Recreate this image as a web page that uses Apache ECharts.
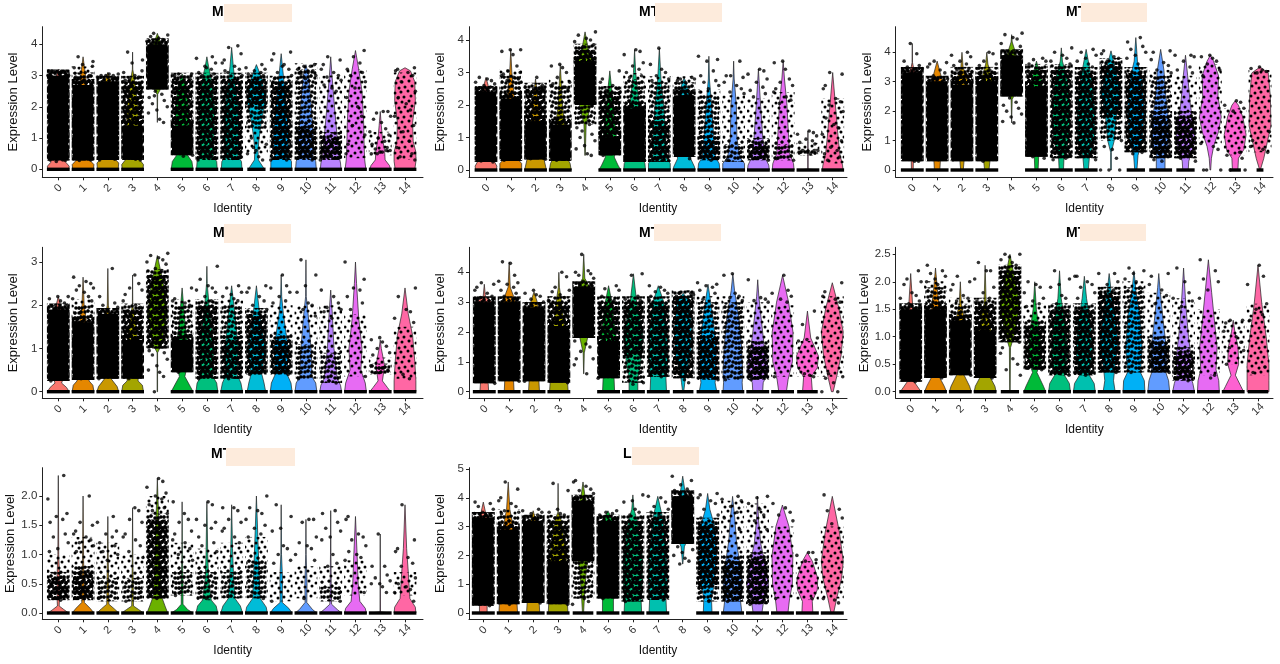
<!DOCTYPE html>
<html><head><meta charset="utf-8">
<style>html,body{margin:0;padding:0;background:#fff}#c{width:1280px;height:664px}</style>
<script src="https://cdn.jsdelivr.net/npm/echarts@6/dist/echarts.min.js"></script></head>
<body><div id="c"></div>
<script>
const categories=['0','1','2','3','4','5','6','7','8','9','10','11','12','13','14'];
const colors=['#F8766D','#E58700','#C99800','#A3A500','#6BB100','#00BA38','#00BF7D','#00C0AF','#00BCD8','#00B0F6','#619CFF','#B983FF','#E76BF3','#FD61D1','#FF67A4'];
const titles=['M','MT','MT','M','MT','MT','MT','LI'];
const yTicks=[[0,1,2,3,4],[0,1,2,3,4],[0,1,2,3,4],[0,1,2,3],[0,1,2,3,4],[0,.5,1,1.5,2,2.5],[0,.5,1,1.5,2],[0,1,2,3,4,5]];
const yDecimals=[0,0,0,0,0,1,1,0];

// Violin outlines: flat pairs of expression level, relative half width.
const violin1=[[0,.95,.1,1,.22,.7,.5,.7,1.5,.7,2.5,.6,3.1,.1,3.2,0],[0,.95,.15,1,.3,.6,1,.6,2,.55,2.8,.3,3.2,.15,3.6,0],[0,.95,.2,1,.35,.6,1,.65,2,.6,2.8,.3,3.1,0],[0,.95,.15,1,.35,.55,1,.6,2,.5,2.8,.2,3.2,.02,3.75,0],[1.5,0,2.4,.03,2.7,.5,3.2,.85,3.8,.6,4.2,.15,4.35,0],[0,1,.25,.9,.45,.5,1,.65,2,.6,2.7,.35,3.05,0],[0,.95,.25,.9,.4,.6,1,.65,2,.7,2.9,.4,3.3,.15,3.6,0],[0,.95,.25,.9,.4,.6,1,.65,2,.6,2.8,.3,3.3,.15,3.9,0],[0,.65,.05,.65,.3,.18,.6,.15,1,.25,1.5,.45,2.2,.85,2.9,.5,3.35,0],[0,.95,.25,.95,.45,.6,1,.7,2,.5,3,.2,3.7,0],[0,.95,.25,.9,.45,.65,1,.7,2,.5,3,.25,3.35,0],[0,.95,.2,.9,.45,.75,1,.6,2,.35,3,.12,3.6,0],[0,.95,.3,.85,.7,.8,1.5,.75,2.5,.6,3.2,.3,3.8,0],[0,.95,.12,.85,.3,.45,.6,.4,1,.2,1.4,.1,1.85,0],[0,.9,.25,1,.55,1,.9,.75,1.5,.7,2.2,.95,2.8,.9,3.15,.5,3.25,0]];
const violin2=[[0,.95,.12,1,.3,.7,1,.75,2,.6,2.6,.2,2.85,0],[0,1,.2,1,.35,.6,1,.65,2,.4,3,.1,3.7,0],[0,1,.3,.8,.45,.6,1,.55,2,.3,2.8,0],[0,1,.2,.9,.4,.6,1,.55,2,.2,3.25,0],[.45,.02,1.4,.1,1.9,.45,2.6,.9,3.3,.7,3.7,.3,4.25,0],[0,1,.15,.75,.4,.4,.7,.7,1.5,.45,2.4,.2,3.05,0],[0,1,.2,.95,.4,.65,1,.7,2,.45,3,.1,3.7,0],[0,1,.2,1,.4,.6,1,.6,2,.4,2.8,.15,3.75,0],[0,1,.1,.95,.35,.6,.8,.75,1.8,.9,2.5,.35,2.85,0],[0,1,.2,.95,.4,.6,1,.45,2,.25,2.8,.05,3.5,0],[0,1,.2,1,.4,.55,1,.3,2,.25,2.8,.05,3.35,0],[0,1,.15,.95,.4,.6,1,.4,2,.2,3.1,0],[0,1,.2,.95,.5,.6,1,.5,2,.35,2.8,.12,3.35,0],[0,.95,.03,.02,.6,.02,1.2,0],[0,.95,.15,.9,.5,.65,1,.5,2,.25,3,0]];
const violin3=[[0,.08,.35,.1,1,.7,2,.8,3,.65,3.5,.1,3.65,.02,4.3,0],[0,.25,.35,.3,.8,.75,2,.8,3,.5,3.7,0],[0,.12,.35,.2,1,.65,2,.75,3,.55,3.5,.1,4,0],[0,.2,.35,.3,1,.7,2,.75,3,.55,3.6,.1,4,0],[1.6,0,2.4,.05,2.8,.6,3.4,.85,4,.35,4.35,.05,4.6,0],[0,.15,.45,.2,1,.7,2,.75,3,.5,3.7,0],[0,.2,.45,.25,1,.7,2,.8,3,.6,3.7,.1,4.15,0],[0,.2,.45,.3,1,.75,2,.8,3,.55,4.1,0],[0,.03,.6,.03,1,.3,1.8,.5,2.6,.85,3.3,.5,4.05,0],[0,.1,.5,.2,1,.6,2,.75,3,.6,3.7,.15,4.5,0],[0,.4,.5,.4,1,.8,1.8,.7,2.6,.45,3.4,.3,4.1,0],[0,.25,.3,.3,1,.9,1.5,.75,2.2,.45,3.2,.2,3.9,0],[0,.03,.4,.1,.8,.3,1.3,.75,1.8,1,2.5,.7,3.2,.75,3.7,.3,3.9,0],[0,.25,.4,.3,.7,.8,1.2,1,1.8,.7,2.2,.3,2.35,0],[0,.03,.4,.35,1,.7,1.5,1,2.5,.95,3.3,.75,3.5,0]];
const violin4=[[0,1,.1,.75,.2,.3,.5,.75,1,.7,2,.2,2.2,0],[0,1,.15,.9,.25,.55,.6,.7,1.2,.55,2,.1,2.65,0],[0,1,.12,.85,.3,.3,.8,.7,1.5,.4,2,.05,2.85,0],[0,1,.15,.9,.25,.5,.8,.6,1.5,.35,2,.02,2.7,0],[0,.02,.9,.02,1.1,.4,1.8,.9,2.5,.55,3.15,0],[0,1,.12,.75,.35,.25,.8,.65,1.5,.3,2.4,0],[0,1,.2,.9,.35,.55,1,.65,2,.2,2.5,.03,2.9,0],[0,1,.2,.85,.4,.5,1,.6,1.8,.3,2.45,0],[0,.85,.2,.7,.4,.5,1,.8,1.8,.3,2.45,0],[0,1,.2,.9,.4,.55,1,.65,1.8,.2,2.2,.05,2.7,0],[0,1,.2,.9,.35,.55,.9,.5,1.8,.2,2.2,.03,3.05,0],[0,1,.15,.9,.3,.6,1,.3,1.8,.15,2.35,0],[0,1,.2,.9,.5,.5,1,.6,1.7,.3,2.5,.1,3,0],[0,.95,.1,.65,.25,.2,.6,.4,1,.1,1.2,0],[0,1,.25,1,.7,.9,1.3,.7,1.8,.3,2.4,0]];
const violin5=[[0,.4,.3,.35,.5,.75,1.5,.8,3,.7,3.2,.1,3.6,0],[0,.45,.4,.4,.7,.85,2,.9,3,.6,3.5,.1,4.35,0],[0,.5,.35,.45,.7,.8,2,.75,3,.3,3.35,0],[0,.85,.3,.8,.6,.7,1.5,.7,3,.25,3.5,.05,4,0],[.6,.01,1.3,.05,1.8,.35,2.5,.8,3.4,.7,3.8,.1,4.6,0],[0,.55,.45,.5,.8,.75,1.8,.7,3,.3,3.55,0],[0,.4,.45,.4,.9,.65,2,.85,3,.3,3.95,0],[0,.75,.45,.7,1,.85,2,.8,3,.5,3.55,0],[0,.05,.3,.15,.6,.25,1.2,.7,2,.8,3,.6,3.3,0],[0,.8,.3,.65,.5,.7,1.5,.75,2.5,.45,3.6,0],[0,.9,.3,.85,.6,.9,1.5,.8,2.5,.55,3.4,.15,3.95,0],[0,.45,.3,.5,.7,1,1.5,.6,2.5,.3,3.2,.1,3.75,0],[0,.35,.4,.5,1,.9,2,.95,3,.55,3.9,0],[0,.45,.5,.35,.8,.9,1.2,1,1.8,.3,2.7,0],[0,.08,.5,.4,1.2,.8,2,1,2.8,.6,3.65,0]];
const violin6=[[0,.95,.1,.6,.2,.25,.5,.8,1,.7,1.5,.2,2.15,0],[0,1,.1,.8,.25,.4,.6,.75,1.2,.6,1.8,.2,2.25,0],[0,1,.1,.85,.3,.35,.6,.8,1.2,.5,1.6,.1,2,0],[0,1,.1,.9,.25,.5,.6,.75,1.2,.5,1.6,.1,2.3,0],[0,.02,.8,.05,1.1,.5,1.6,.9,2.2,.3,2.5,0],[0,1,.1,.8,.35,.2,.6,.6,1,.5,1.5,.15,2,0],[0,1,.15,.9,.3,.45,.7,.75,1.2,.55,1.7,.15,2.2,0],[0,1,.15,.9,.3,.45,.7,.75,1.2,.6,1.7,.2,2.1,0],[0,.55,.2,.4,.4,.5,.9,.8,1.4,.55,1.8,.2,2.15,0],[0,1,.2,.95,.35,.6,.8,.75,1.4,.55,1.8,.2,2.2,0],[0,1,.2,.9,.35,.65,.7,.75,1.3,.4,1.9,.1,2.15,0],[0,1,.15,.85,.3,.6,.6,.7,1,.45,1.6,.2,2.25,0],[0,1,.2,.95,.4,.7,.8,.8,1.2,.6,1.8,.3,2.4,0],[0,.95,.1,.7,.3,.2,.5,.5,.8,.45,1.1,.15,1.3,0],[0,1,.2,1,.5,1,1,.75,1.6,.35,2.3,0]];
const violin7=[[0,.95,.06,.5,.12,.08,.2,.1,.6,.12,1,.04,2.35,0],[0,1,.08,.65,.18,.12,.5,.1,.9,.05,2,0],[0,1,.07,.6,.15,.1,.5,.08,.9,.04,1.65,0],[0,1,.06,.55,.12,.08,.5,.06,.9,.03,1.8,0],[0,.95,.12,.7,.3,.35,.8,.25,1.5,.15,2,.05,2.3,0],[0,1,.06,.5,.15,.08,.5,.08,1,.02,1.9,0],[0,1,.12,.85,.22,.4,.6,.15,1,.08,1.9,0],[0,1,.12,.8,.25,.3,.6,.18,1.1,.08,1.85,0],[0,1,.1,.9,.25,.35,.7,.25,1.2,.15,2,0],[0,1,.08,.7,.18,.1,.6,.12,1,.03,1.85,0],[0,1,.06,.6,.18,.08,.5,.1,1,.02,1.6,0],[0,1,.06,.6,.15,.08,.5,.05,1,.02,1.75,0],[0,1,.08,.9,.2,.4,.5,.25,1,.15,1.65,0],[0,.95,.02,.02,.5,.01,1.35,0],[0,1,.1,.95,.25,.45,.7,.3,1.1,.15,1.85,0]];
const violin8=[[0,.35,.3,.35,.6,.75,2,.8,3.2,.65,3.5,.2,3.85,0],[0,.85,.35,.8,.7,.85,2,.85,3,.45,3.6,.15,4.55,0],[0,.6,.35,.55,.8,.85,2,.8,3,.4,3.55,0],[0,.9,.35,.85,.8,.8,2,.75,3.2,.3,3.5,.02,4.5,0],[0,.05,.5,.12,1.5,.3,2.5,.8,3.5,.75,4,.2,4.55,0],[0,.5,.45,.5,.9,.8,2,.8,3.2,.45,3.55,0],[0,.8,.45,.75,1,.85,2,.85,3.2,.4,3.6,.1,4.1,0],[0,.8,.45,.75,1,.85,2,.8,3.2,.5,4.05,0],[1.7,.01,2.3,.15,2.8,.7,3.6,.9,4.1,.25,4.75,0],[0,.4,.5,.35,1,.6,2,.8,3,.65,3.6,.2,4.15,0],[0,.85,.5,.7,1,.85,1.6,.7,2.5,.35,3.3,.2,4.05,0],[0,.4,.4,.55,1,1,1.6,.75,2.4,.3,3.2,.1,4.05,0],[0,.5,.5,.65,1,.9,2,.95,3,.6,3.75,0],[0,.5,.4,.45,.8,.9,1.2,.95,1.8,.45,2.1,0],[0,.12,.5,.4,1.2,.85,1.8,1,2.8,.65,4.05,0]];

// Overplotted point masses: [from level, to level, density 1-3, 4 = solid black].
const mass1=[[[.28,3,4]],[[.28,2.7,4],[2.7,3.1,2]],[[.3,2.8,4]],[[.3,1.4,4],[1.4,2.8,3]],[[2.55,4,4]],[[.45,1.4,4],[1.4,2.9,3]],[[.3,2.9,3]],[[.3,2.9,3]],[[.5,1.3,1],[1.3,2,2],[2,2.9,3]],[[.3,2.8,3]],[[.3,1.3,3],[1.3,3.2,2]],[[.3,1,3],[1,3,1]],[[.35,3.2,1]],[[.45,1.2,1]],[[.3,3.1,1]]];
const mass2=[[[.25,2.4,4]],[[.28,2.2,4],[2.2,2.9,2]],[[.32,1.5,4],[1.5,2.5,3]],[[.28,1.4,4],[1.4,2.6,2]],[[2,3.3,4],[3.3,3.7,3],[1.4,2,2]],[[.45,1,4],[1,2.4,3]],[[.25,1.9,4],[1.9,2.8,2]],[[.25,1.5,3],[1.5,2.7,2]],[[.4,2.3,4],[2.3,2.7,2]],[[.3,.9,3],[.9,2.3,2]],[[.25,.8,2],[.8,2.3,1]],[[.3,.8,3],[.8,2.2,1]],[[.3,.8,2],[.8,2.4,1]],[[.45,.65,2]],[[.2,2.2,1]]];
const mass3=[[[.3,3.3,4]],[[.3,3,4]],[[.3,2.9,4],[2.9,3.3,3]],[[.3,3,4],[3,3.3,3]],[[2.5,3.9,4]],[[.45,2.8,4],[2.8,3.4,3]],[[.4,3.4,3]],[[.4,3.3,3]],[[1.8,3.6,3],[1,1.8,2]],[[.6,3.3,3]],[[.4,1.8,3],[1.8,3.2,2]],[[.4,1.8,3],[1.8,3.2,1]],[[.9,3.6,1]],[[.5,2.1,1]],[[.6,3.4,1]]];
const mass4=[[[.25,1.9,4]],[[.27,1.6,4],[1.6,2,2]],[[.3,1.8,4]],[[.3,1.2,4],[1.2,1.9,3]],[[1,2.7,3]],[[.45,1.2,4],[1.2,2,2]],[[.3,2,3]],[[.3,1.2,3],[1.2,2,2]],[[.4,1.8,3]],[[.4,1.2,3],[1.2,2,1]],[[.3,1.1,2],[1.1,2,1]],[[.2,.9,2],[.9,2,1]],[[.35,1.8,1]],[[.4,.65,2]],[[.3,1.5,1]]];
const mass5=[[[.28,3,4]],[[.35,3,4]],[[.35,2.8,4]],[[.3,2.2,4],[2.2,3,3]],[[1.8,3.5,4]],[[.45,1.7,4],[1.7,3,3]],[[.3,1.2,2],[1.2,3,3]],[[.5,3,3]],[[.45,3.2,3]],[[.4,1.8,3],[1.8,3,2]],[[.4,3,2]],[[.4,1.5,3],[1.5,3,1]],[[.5,2.9,1]],[[.5,1.7,1]],[[.5,3.2,1]]];
const mass6=[[[.18,1.5,4]],[[.25,1.5,4],[1.5,1.9,2]],[[.3,1.3,4],[1.3,1.6,2]],[[.25,1.1,4],[1.1,1.6,3]],[[.9,2.2,3]],[[.4,1.2,3],[1.2,1.6,1]],[[.3,1.5,3]],[[.3,1.5,3]],[[.35,1.8,3]],[[.35,1.9,2]],[[.35,.9,3],[.9,1.8,1]],[[.2,.7,3],[.7,1.7,1]],[[.3,1.5,1]],[[.5,1.3,1]],[[.3,1.6,1]]];
const mass7=[[[.22,.6,3],[.6,1,1]],[[.22,.7,3],[.7,1.3,1]],[[.2,.6,2],[.6,1.2,1]],[[.2,.6,2],[.6,1,1]],[[.25,1.6,3],[1.6,2,1]],[[.3,.7,2],[.7,1.2,1]],[[.22,.7,2],[.7,1.1,1]],[[.25,.7,2],[.7,1.2,1]],[[.25,.9,2],[.9,1.3,1]],[[.2,.7,1]],[[.25,.8,1]],[[.2,.45,2],[.45,.8,1]],[[.3,.9,1]],[],[[.3,.7,1]]];
const mass8=[[[.25,3.3,4]],[[.3,2.9,4],[2.9,3.4,2]],[[.35,3.2,4]],[[.3,1.8,4],[1.8,3.2,3]],[[1.8,3.9,4],[.5,1.8,2]],[[.5,3.2,4]],[[.4,3.2,3]],[[.45,3.3,3]],[[2.4,4.05,4]],[[.9,3.1,3],[.4,.9,2]],[[.4,1.8,3],[1.8,3.9,1]],[[.3,1.9,3],[1.9,3.8,1]],[[.5,3,1]],[[.45,1.8,1]],[[.5,3,1]]];

// Relative width of the row of zero-valued cells per identity.
const zero1=[1,1,1,1,0,1,1,1,.8,1,1,1,1,1,1];
const zero2=[1,1,1,1,0,1,1,1,1,1,1,1,1,1,1];
const zero3=[1,1,1,1,0,1,1,1,0,.8,1,.8,0,.5,.3];
const zero4=[1,1,1,1,0,1,1,1,1,1,1,1,1,1,1];
const zero5=[1,1,1,1,0,1,1,1,.9,1,1,1,1,.9,0];
const zero6=[1,1,1,1,.8,1,1,1,1,1,1,1,1,1,.9];
const zero7=[1,1,1,1,1,1,1,1,1,1,1,1,1,1,1];
const zero8=[1,1,1,1,.9,1,1,1,0,1,1,1,1,1,1];

// Separately visible points.
const points1=[[3.15,3.1,3.05,3.1,3,3.15,3.05,3.1,3,3,.25,.3,.3,.28],[3.6,3.45,3.35,3.25,3.1,3,2.9,3.3,2.95,2.85,2.8,.3,.28],[3.05,3,3.05,3,2.95,2.9,3,2.9,.3,.32],[3.75,3.5,3.4,3.1,3,2.95,2.9,3.15,2.85,2.8,.32,.3],[4.35,4.3,4.25,4.2,4.15,4.1,4.05,2.5,2.4,2.3,2.2,2.1,2,1.9,1.8,1.6,1.5,2.35],[3.05,3,3,2.95,2.9,3.05,.45,.5,.42],[3.6,3.55,3.4,3.3,3.2,3.1,3.05,3,2.95,3.25,.3,.35],[3.95,3.9,3.7,3.5,3.4,3.3,3.2,3.1,3,3.15,.35],[3.35,3.25,3.2,3.15,3.1,3.05,3,1,.8,.6,.5,.4,.3,.7],[3.75,3.7,3.5,3.35,3.2,3.1,3,2.9,3.3,.3,.3],[3.35,3.3,3.3,3.2,3.15,3.05,3,2.9,2.8,3.1,.3],[3.6,3.5,3.35,3.2,3.1,3,2.95,2.85,2.7,2.6,2.5,.3],[3.8,3.6,3.4,3.2,3.1,3,2.8,2.6,2.3,2,1.7,1.4,1.1,.8,.5],[1.85,1.85,1.8,1.7,1.6,1.5,1.3,1.2,1.1,1,.9,.8,.7,.65,.6,.55,.5,.55,.6,.5],[3.25,3.2,3.15,3.1,3,2.8,2.5,2.3,2.1,1.9,1.7,1.4,1.2,.9,.7,.5,.4,.3]];
const points2=[[2.85,2.8,2.75,2.7,2.65,2.6,2.55,2.5,.25,.28],[3.7,3.7,3.65,3.55,3.2,3.05,3,2.95,2.9,2.85,2.8,2.75,2.7,.3],[2.85,2.55,2.55,2.5,2.5,2.45,2.4,2.6,.35,.33],[3.25,3.2,3.15,3,2.85,2.7,2.65,2.6,2.55,2.5,.3],[4.25,4.15,4.05,4,3.95,3.85,3.8,1.4,1.3,1.1,1,.9,.75,.65,.5,.45,1.2],[3.05,2.8,2.7,2.6,2.5,2.45,2.4,.45],[3.7,3.65,3.55,3.3,3.2,3.1,3,2.9,2.85,.3],[3.75,3.25,3.1,3,2.9,2.8,2.75,.3,.3],[2.85,2.8,2.8,2.75,2.7,.35],[3.5,3.4,3.35,3.05,2.9,2.75,2.7,2.6,2.5,2.4,.3],[3.35,2.9,2.85,2.9,2.7,2.6,2.5,2.4,2.35,.3],[3.1,3.05,2.95,2.8,2.7,2.55,2.45,2.35,2.25,.3],[3.35,3.3,3.1,2.8,2.7,2.6,2.5,2.4,2.25,2.15,2.05,.3,.35],[1.2,1.15,1.1,1.05,.95,.9,.85,.8,.6,.6,.55,.55,.5,.6],[3,2.95,2.6,2.5,2.2,2.1,2,1.8,1.6,1.4,1.3,1.1,.9,.7,.6,.5,.4,.3]];
const points3=[[4.3,3.95,3.7,3.55,3.5,3.45,3.4,3.35,.3,.3],[3.7,3.65,3.6,3.5,3.4,3.3,3.2,3.1,3.05,.35],[4,3.9,3.85,3.7,3.6,3.55,3.45,3.4,3.35,3.3,.35],[4,3.95,3.7,3.6,3.55,3.45,3.4,3.3,.3],[4.65,4.6,4.5,4.45,4.3,4.2,2.45,2.3,2.2,2.1,2,1.9,1.8,1.65,1.6],[3.8,3.75,3.7,3.6,3.5,3.45,.4,.45],[4.15,4,3.9,3.8,3.7,3.6,3.5,.4,.35],[4.1,4,3.9,3.8,3.7,3.6,3.5,3.4,.35],[4.05,3.95,3.85,3.8,3.7,1,.8,.7,.4,0,0,0],[4.5,4.35,4.2,4.1,4,3.9,3.8,3.6,.6,.55],[4.05,4,3.75,3.65,3.55,3.4,3.3,.35,.3],[3.9,3.9,3.85,3.7,3.5,3.4,3.3,.4,.3],[3.9,3.85,3.8,3.7,3.6,3.4,3.2,.9,.8,.7,0,0,0],[2.35,2.3,2.2,2.1,2,.6,.5,.4,0,0],[3.5,3.45,3.4,3.35,3.3,1.3,1,.8,.7,.6]];
const points4=[[2.2,2.2,2.15,2.1,2.05,2,2,.25],[2.65,2.55,2.5,2.45,2.4,2.35,2.3,2.2,2.15,2.1,.3],[2.85,2.2,2.05,2,1.95,1.9,.3],[2.7,2.5,2.4,2.35,2.25,2.1,2,1.95,.3],[3.2,3.15,3.1,3.05,3,2.95,2.85,2.8,.95,.9,.85,.75,.6,.5,.45,.35,0],[2.4,2.15,2.1,2.05,2,.45],[2.9,2.6,2.45,2.4,2.35,2.3,2.2,2.1,.3],[2.45,2.4,2.3,2.25,2.2,2.15,2.1,.3],[2.45,2.4,2.3,2.2,2.1,2,1.9,.4],[2.7,2.45,2.4,2.3,2.2,2.1,2.05,.4],[3.05,2.7,2.45,2.3,2.05,2,1.9,1.75,.3],[2.35,2.2,2.05,1.95,1.9,1.85,1.7,.2],[3,2.6,2.4,2.35,2.2,2.05,1.9,.35],[1.25,1.2,1.15,1.05,1,.9,.85,.6,.55,.5,.45],[2.4,2.2,1.9,1.85,1.7,1.6,.4,.3]];
const points5=[[3.65,3.6,3.5,3.4,3.3,3.2,3.15,.28],[4.35,4.3,3.9,3.7,3.65,3.6,3.5,3.4,3.3,3.2,.35],[3.4,3.3,3.25,3.2,3.1,3,2.95,.35],[4,3.85,3.5,3.4,3.35,3.25,3.15,3.05,.3],[4.6,4.05,4,3.95,3.9,3.8,3.7,1.7,1.6,1.5,1.35,1.1,1.1,.9,.6],[3.55,3.45,3.4,3.2,3.1,3.05,.45],[3.95,3.9,3.2,3.1,3.05,3,.3,.25],[3.55,3.5,3.4,3.35,3.3,3.2,3.1,.5],[3.3,3.3,3.25,3.2,.4,.3],[3.65,3.6,3.55,3.5,3.4,3.3,3.1,.4],[3.95,3.9,3.3,3.2,3.15,3.05,.4],[3.75,3.15,3.1,3.05,3,.4],[3.9,3.4,3.3,3.2,3.1,3,.5],[2.7,2.25,1.8,1.75,1.7,.55,.5,.6],[3.65,3.35,3.2,3.1,3,.6,.5,.45,.3,0,0]];
const points6=[[2.2,2.05,2,1.95,1.8,1.75,1.7,1.65,1.6,.18],[2.3,2.2,2.15,2.1,2.05,2,1.95,.25],[2.1,2,1.95,1.85,1.75,1.7,1.65,.3],[2.35,2.2,2.2,2.05,1.9,1.8,1.7,1.65,.25],[2.5,2.5,2.45,2.4,2.35,2.3,2.25,.9,.8,.7,.6,.5,.4,.3],[2,1.95,1.9,1.8,1.7,1.65,1.6,1.55,.4],[2.2,2.05,1.95,1.9,1.75,1.7,1.6,.3],[2.1,2.1,2,1.95,1.9,1.8,1.7,.3],[2.15,2.15,2,1.95,1.85,1.75,.35],[2.25,2.2,2.15,2.05,2,1.9,.35],[2.15,2.1,1.95,1.85,1.75,1.6,.35],[2.25,2,1.8,1.7,1.65,1.55,.2],[2.4,2.2,2.05,2,1.85,1.7,.25,.3],[1.3,1.3,1.25,1.1,1,.9,.8,.75,.5],[2.3,2.1,1.95,1.6,1.5,1.4,1.3,.45,.35]];
const points7=[[2.35,1.95,1.7,1.65,1.6,1.55,1.35,1.3,1.2,1.1,1.05,.22],[2,1.55,1.5,1.4,1.35,1.3,1.25,1.2,1.15,1.05,.25],[1.65,1.55,1.4,1.35,1.3,1.2,1.15,1.05,1,.9,.25],[1.8,1.75,1.6,1.55,1.35,1.3,1.25,1.15,1.05,.95,.2],[2.3,2.25,2.15,2.05,2,1.95,1.85,1.8,1.75,1.7,.25],[1.9,1.7,1.6,1.55,1.4,1.35,1.25,1.2,1.1,1,.9,.3],[1.9,1.85,1.6,1.55,1.5,1.45,1.3,1.2,1.15,1.05,.25],[1.8,1.8,1.75,1.6,1.55,1.45,1.4,1.3,1.2,.3],[2,1.8,1.75,1.7,1.6,1.5,1.45,1.35,1.3,.25],[1.85,1.65,1.45,1.4,1.15,1.1,1,.9,.85,.2],[1.6,1.6,1.55,1.3,1.2,1.15,1.1,1,.9,.25],[1.75,1.7,1.55,1.45,1.4,1.3,1.25,1,.85,.8,.2],[1.65,1.6,1.35,1.3,1.25,1.15,1.05,1,.95,.9,.35],[1.35,.8,.8,.65,.6,.55,.5,.5,.45,.35],[1.85,1.25,1.1,1.05,.95,.85,.8,.6,.5,.45,.4,.35,.2]];
const points8=[[3.85,3.8,3.7,3.6,3.5,3.45,3.4,.25],[4.55,4.3,4,3.9,3.8,3.7,3.55,3.5,3.45,.3],[3.6,3.55,3.5,3.45,3.4,3.3,.35],[4.5,4.25,3.6,3.5,3.45,3.4,3.3,.3],[4.6,4.55,4.4,4.3,4.25,4.15,4.05,.5,.4,.3],[3.55,3.5,3.45,3.4,3.3,.5],[4.1,3.9,3.85,3.6,3.5,3.4,3.3,.4],[4.05,4,3.85,3.7,3.6,3.5,3.4,.45],[4.75,4.6,4.45,4.3,4.25,4.2,2.3,2.2,2.1,2,1.9,1.8,1.7],[4.15,4.1,4,3.9,3.8,3.6,3.4,3.3,.4],[4.05,3.95,3.9,3.7,3.5,3.3,2.9,.4],[4.05,4,3.8,3.6,3.4,3.2,2.9,.3],[3.8,3.65,3.5,3.4,3.2,.5],[2.1,2.1,2,1.85,1.8,.5],[4.1,3.6,3.55,3.3,3.1,.5,.45,.35]];

const violins=[violin1,violin2,violin3,violin4,violin5,violin6,violin7,violin8];
const masses=[mass1,mass2,mass3,mass4,mass5,mass6,mass7,mass8];
const zeros=[zero1,zero2,zero3,zero4,zero5,zero6,zero7,zero8];
const pointSets=[points1,points2,points3,points4,points5,points6,points7,points8];

// ---- layout and styling (pixels) ----
const layout=[
 {l:42.3,r:423,t:26.7,b:177.3,x0:58.3,x14:405,y0:169.3,yv:4,ypx:44.3,tx:212,ty:5,box:[224,4,68,18]},
 {l:469,r:847,t:26.7,b:177.3,x0:486,x14:832.7,y0:170,yv:4,ypx:40,tx:639,ty:5,box:[655,3,67,19]},
 {l:895.7,r:1273,t:26.7,b:177.3,x0:912.3,x14:1260,y0:170,yv:4,ypx:52.3,tx:1066,ty:5,box:[1081,3,66,19]},
 {l:42.3,r:423,t:247.3,b:398.3,x0:58.3,x14:405,y0:391.7,yv:3,ypx:262,tx:213,ty:226,box:[224,224,67,19]},
 {l:469,r:847,t:247.3,b:398.3,x0:484.3,x14:832.3,y0:391.7,yv:4,ypx:272.3,tx:639,ty:226,box:[654,224,67,17]},
 {l:895.7,r:1273,t:247.3,b:398.3,x0:910.7,x14:1258,y0:391.7,yv:2.5,ypx:254.3,tx:1066,ty:226,box:[1080,224,66,17]},
 {l:42.3,r:423,t:467.7,b:619.3,x0:58.3,x14:405,y0:613,yv:2,ypx:496,tx:211,ty:447,box:[226,448,69,18]},
 {l:469,r:847,t:467.7,b:619.3,x0:483.3,x14:832.3,y0:613,yv:5,ypx:469,tx:623,ty:447,box:[632,447,67,18]}
];
const halfWidth=.44, massWidth=.41, haloWidth=.46, haloTop=6;
const jitter=[-.38,.12,.31,-.15,.42,-.27,.05,.22,-.42,.35,-.08,.18,-.33,.28,-.2,.4,-.02,-.36,.09,.25,-.12,.38,-.3];
const font='"Liberation Sans",Arial,sans-serif';

// Stipple tiles stand in for the thousands of overplotted cells.
const tileDots=[[2,2],[9,1],[16,3],[5,7],[12,6],[19,8],[1,12],[8,11],[15,13],[4,17],[11,16],[18,18],[6,3],[13,2],[19,3],[2,8],[9,7],[16,8],[5,12],[12,12],[19,13],[1,17],[8,17],[15,18],[4,0],[11,4],[17,0],[0,5],[7,9],[14,9],[3,10],[10,14],[17,11],[6,15],[13,19],[0,14]];
function tile(n,r){const c=document.createElement('canvas');c.width=c.height=20;const g=c.getContext('2d');g.fillStyle='#000';
 tileDots.slice(0,n).forEach(d=>{[-20,0,20].forEach(a=>[-20,0,20].forEach(b=>{g.beginPath();g.arc(d[0]+a,d[1]+b,r,0,7);g.fill();}));});return {image:c,repeat:'repeat'};}
const fills={1:tile(12,1.5),2:tile(24,1.8),3:tile(36,1.9),4:'#000'};
const haloFill={1:null,2:fills[1],3:fills[2],4:fills[3]};

const grid=[],xAxis=[],yAxis=[],series=[],title=[],graphic=[];
layout.forEach((p,i)=>{
 const ux=(p.x14-p.x0)/14, uy=(p.y0-p.ypx)/p.yv;
 grid.push({left:p.l,top:p.t,width:p.r-p.l,height:p.b-p.t});
 const cats=categories.map((_,k)=>k);
 xAxis.push({type:'value',gridIndex:i,min:-(p.x0-p.l)/ux,max:14+(p.r-p.x14)/ux,splitLine:{show:false},
  name:'Identity',nameLocation:'middle',nameGap:25,nameTextStyle:{fontFamily:font,fontSize:12,color:'#111'},
  axisLine:{show:true,onZero:false,lineStyle:{color:'#222',width:1}},
  axisTick:{show:true,length:3,customValues:cats,lineStyle:{color:'#222'}},
  axisLabel:{show:true,customValues:cats,rotate:45,align:'center',verticalAlign:'middle',fontFamily:font,fontSize:11,color:'#333',margin:11,hideOverlap:false,formatter:v=>categories[v]}});
 yAxis.push({type:'value',gridIndex:i,min:-(p.b-p.y0)/uy,max:(p.y0-p.t)/uy,splitLine:{show:false},
  name:'Expression Level',nameLocation:'middle',nameGap:i==5||i==6?24:22,nameTextStyle:{fontFamily:font,fontSize:13,color:'#111'},
  axisLine:{show:true,onZero:false,lineStyle:{color:'#222',width:1}},
  axisTick:{show:true,length:3,customValues:yTicks[i],lineStyle:{color:'#222'}},
  axisLabel:{show:true,customValues:yTicks[i],fontFamily:font,fontSize:11.5,color:'#333',margin:5,formatter:v=>v.toFixed(yDecimals[i])}});
 const prof=violins[i];
 series.push({type:'custom',xAxisIndex:i,yAxisIndex:i,silent:true,z:2,clip:false,data:cats.map(k=>[k,0]),
  renderItem:(ps,api)=>{const k=ps.dataIndex,a=prof[k],R=[],L=[];
   for(let j=0;j<a.length;j+=2){R.push(api.coord([k+a[j+1]*halfWidth,a[j]]));L.unshift(api.coord([k-a[j+1]*halfWidth,a[j]]));}
   return {type:'polygon',shape:{points:R.concat(L)},style:{fill:colors[k],stroke:'#222',lineWidth:.7}};}});
 const mdata=[];masses[i].forEach((segs,k)=>segs.forEach(s=>mdata.push([k,s[0],s[1],s[2]])));
 series.push({type:'custom',xAxisIndex:i,yAxisIndex:i,silent:true,z:3,clip:false,data:mdata,
  renderItem:(ps,api)=>{const d=mdata[ps.dataIndex],lv=d[3],w=lv>1?massWidth:haloWidth,
    A=api.coord([d[0]-w,d[2]]),B=api.coord([d[0]+w,d[1]]),
    HA=api.coord([d[0]-haloWidth,d[2]]),HB=api.coord([d[0]+haloWidth,d[1]]),children=[];
   if(haloFill[lv])children.push({type:'rect',shape:{x:HA[0],y:HA[1]-haloTop,width:HB[0]-HA[0],height:HB[1]-HA[1]+haloTop},style:{fill:haloFill[lv]}});
   children.push({type:'rect',shape:{x:A[0],y:A[1],width:B[0]-A[0],height:B[1]-A[1]},style:{fill:fills[lv]}});
   return {type:'group',children};}});
 series.push({type:'custom',xAxisIndex:i,yAxisIndex:i,silent:true,z:4,clip:false,data:zeros[i].map((w,k)=>[k,w]),
  renderItem:(ps,api)=>{const k=ps.dataIndex,w=zeros[i][k];if(!w)return null;
   const A=api.coord([k-w*haloWidth,0]),B=api.coord([k+w*haloWidth,0]);
   return {type:'rect',shape:{x:A[0],y:A[1]-1.7,width:B[0]-A[0],height:3.4},style:{fill:'#000'}};}});
 const pts=[];let c=i*5;pointSets[i].forEach((ys,k)=>ys.forEach(y=>{pts.push([k+jitter[c%jitter.length],y]);c++;}));
 series.push({type:'scatter',xAxisIndex:i,yAxisIndex:i,silent:true,z:5,clip:false,symbolSize:3.6,itemStyle:{color:'#000'},data:pts});
 title.push({text:titles[i],left:p.tx,top:p.ty,padding:0,textStyle:{fontFamily:font,fontSize:14,fontWeight:'bold',color:'#000'}});
 graphic.push({type:'rect',z:100,shape:{x:p.box[0],y:p.box[1],width:p.box[2],height:p.box[3]},style:{fill:'#FDEBDC'}});
});
const chart=echarts.init(document.getElementById('c'),null,{renderer:'canvas'});
chart.setOption({animation:false,backgroundColor:'#fff',title,grid,xAxis,yAxis,series,graphic:{elements:graphic},tooltip:{show:false}});
</script></body></html>
